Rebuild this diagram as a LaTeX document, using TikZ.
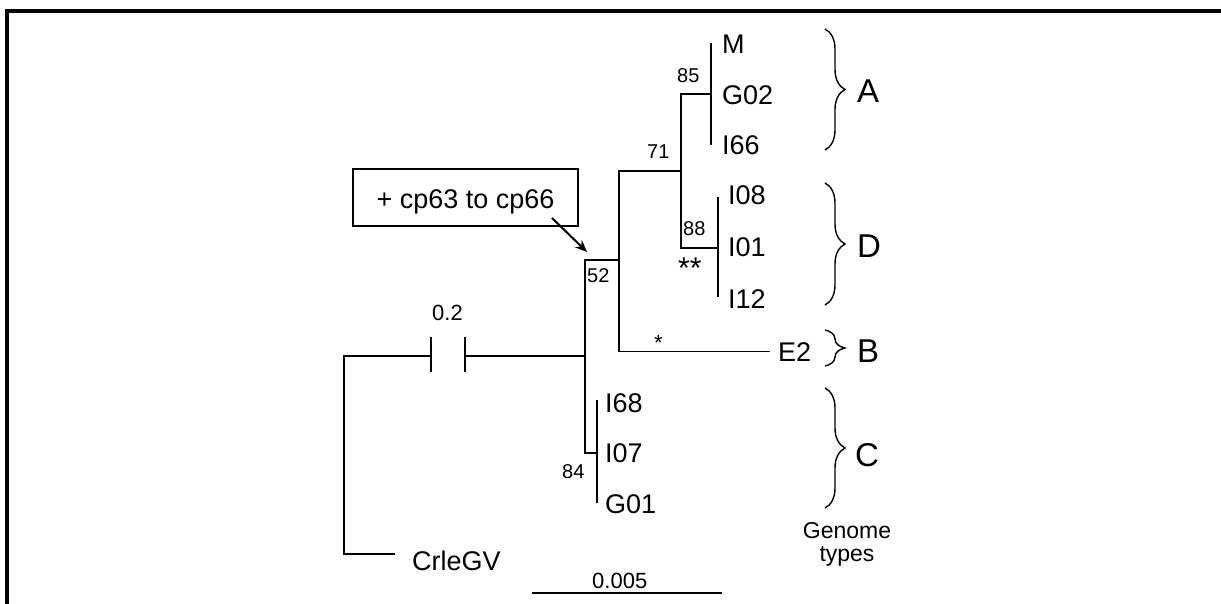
\documentclass[tikz,border=0pt]{standalone}
\usepackage{fontspec}
\setmainfont{Liberation Sans}
\usetikzlibrary{arrows.meta,positioning,decorations.pathreplacing}

\begin{document}
\begin{tikzpicture}[
  x=1pt, y=-1pt,
  font=\fontsize{27}{30}\selectfont,
  branch/.style={line width=1.8pt},
  leaf/.style={anchor=base west, inner sep=0pt},
  boot/.style={anchor=base west, inner sep=0pt, font=\fontsize{20}{22}\selectfont},
  scalelbl/.style={anchor=base west, inner sep=0pt, font=\fontsize{22}{24}\selectfont},
  clade/.style={anchor=base west, inner sep=0pt, font=\fontsize{33}{36}\selectfont},
  brc/.style={decorate, decoration={brace, amplitude=20pt}, line width=1.4pt},
  arr/.style={-{Stealth[length=12pt, width=10pt]}, line width=2pt}
]
\useasboundingbox (0,0) rectangle (1221,604);
% frame
\draw[line width=3.5pt] (7,604) -- (7,11) -- (1221,11);
% inner nodes
\coordinate (root) at (585,356);
\coordinate (n52) at (585,260);
\coordinate (n84) at (585,453);
\coordinate (up) at (619,260);
\coordinate (n71) at (681,171);
\coordinate (n85) at (711,94);
\coordinate (n88) at (718,248);
\coordinate (c84) at (597,453);
\coordinate (og) at (344,356);
\coordinate (ogleaf) at (395,554);
\coordinate (gapl) at (431,356);
\coordinate (gapr) at (465,356);
% leaves
\node[leaf] (M) at (722,54) {M};
\node[leaf] (G02) at (722,105) {G02};
\node[leaf] (I66) at (722,155) {I66};
\node[leaf] (I08) at (728,205) {I08};
\node[leaf] (I01) at (728,257) {I01};
\node[leaf] (I12) at (728,308) {I12};
\node[leaf] (E2) at (778,361) {E2};
\node[leaf] (I68) at (605,412) {I68};
\node[leaf] (I07) at (605,462) {I07};
\node[leaf] (G01) at (605,513) {G01};
\node[leaf] (crle) at (412,570) {CrleGV};
% branches
\draw[branch] (ogleaf) -| (og) -- (gapl);
\draw[branch] (gapl |- 0,337) -- (gapl |- 0,372) (gapr |- 0,337) -- (gapr |- 0,372);
\draw[branch] (gapr) -- (root);
\draw[branch] (c84) -- (n84) -- (n52) -- (up);
\draw[branch] (n71) -| (up) |- ([xshift=-8pt]E2.west);
\draw[branch] (n85) -| (n71) |- (n88);
\draw[branch] (711,43) -- (711,145);
\draw[branch] (718,197) -- (718,297);
\draw[branch] (597,400) -- (597,503);
% support values
\node[boot] (b85) at (677,83) {85};
\node[boot] (b71) at (647,159) {71};
\node[boot] (b88) at (683,236) {88};
\node[boot] (b52) at (587,282) {52};
\node[boot] (b84) at (562,478) {84};
\node[leaf, font=\fontsize{30}{30}\selectfont] (st2) at (678,279) {**};
\node[leaf, font=\fontsize{22}{22}\selectfont] (st1) at (654,350) {*};
\node[scalelbl] (gap) at (432,320) {0.2};
% insertion box
\node[draw, line width=1.8pt, minimum width=225pt, minimum height=57pt, inner sep=0pt,
      text height=23pt, text depth=0pt] (ins) at (465.5,197.5) {+ cp63 to cp66};
\draw[arr] ([shift={(-27,-9)}]ins.south east) -- ([shift={(2,-8)}]n52);
% genome types
\draw[brc] (825,29) -- (825,150);
\draw[brc] (825,183) -- (825,305);
\draw[brc] (825,330) -- (825,366);
\draw[brc] (825,388) -- (825,508);
\node[clade] (A) at (857,103) {A};
\node[clade] (D) at (857,258) {D};
\node[clade] (B) at (857,362) {B};
\node[clade] (C) at (855,466) {C};
\node[anchor=base, font=\fontsize{23}{23}\selectfont] (gen) at (847,538) {Genome};
\node[anchor=base, font=\fontsize{23}{23}\selectfont] (types) at (847,561) {types};
% scale bar
\draw[line width=2.2pt] (532,593) -- (722,593);
\node[scalelbl] (sc) at (592,588) {0.005};
\end{tikzpicture}
\end{document}
